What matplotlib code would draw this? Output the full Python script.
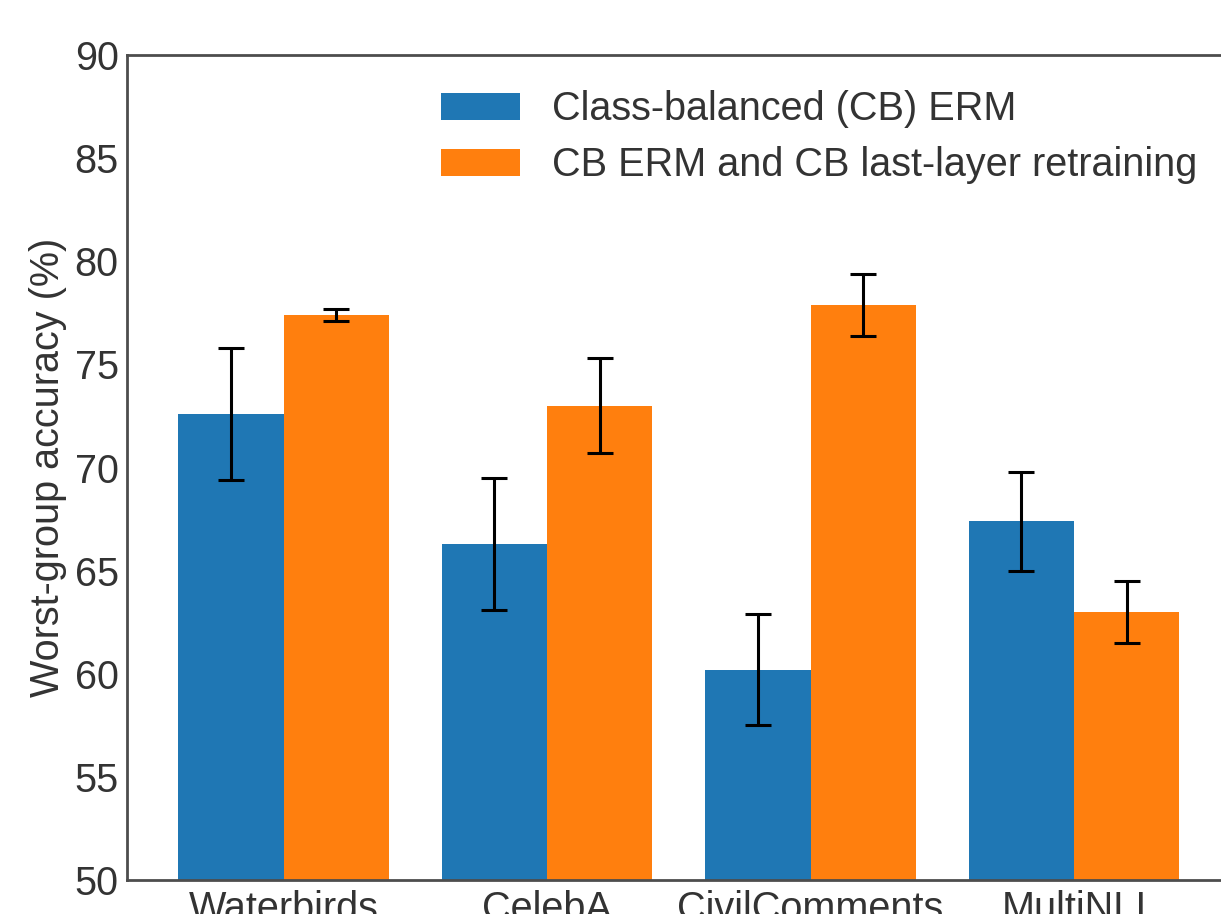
import matplotlib

matplotlib.use("Agg")
import matplotlib.pyplot as plt
import numpy as np

datasets = ["Waterbirds", "CelebA", "CivilComments", "MultiNLI"]
series_labels = ["Class-balanced (CB) ERM", "CB ERM and CB last-layer retraining"]
cb_erm_mean = [72.6, 66.3, 60.2, 67.4]
cb_erm_err = [3.2, 3.2, 2.7, 2.4]
cb_llr_mean = [77.4, 73.0, 77.9, 63.0]
cb_llr_err = [0.3, 2.3, 1.5, 1.5]

plt.rcParams["font.family"] = ["Liberation Sans", "DejaVu Sans"]
plt.rcParams["font.size"] = 28.5
plt.rcParams["text.color"] = "0.2"
plt.rcParams["axes.labelcolor"] = "0.2"
plt.rcParams["xtick.color"] = "0.2"
plt.rcParams["ytick.color"] = "0.2"

fig = plt.figure(figsize=(12.21, 9.14), dpi=100)
ax = fig.add_axes([0.104, 0.0372, 0.9038, 0.9026])

x = np.arange(len(datasets))
width = 0.4
err_kw = dict(elinewidth=2.2, capthick=2.2, ecolor="black")
ax.bar(x - width / 2, cb_erm_mean, width, yerr=cb_erm_err, capsize=9.5, color="#1f77b4",
       error_kw=err_kw, label=series_labels[0])
ax.bar(x + width / 2, cb_llr_mean, width, yerr=cb_llr_err, capsize=9.5, color="#ff7f0e",
       error_kw=err_kw, label=series_labels[1])

ax.set_xlim(-0.594, 3.594)
ax.set_ylim(50, 90)
ax.set_yticks(np.arange(50, 91, 5))
ax.set_xticks(x)
ax.set_xticklabels(datasets)
ax.tick_params(axis="y", length=0, pad=6)
ax.tick_params(axis="x", length=0, pad=7)
ax.set_ylabel("Worst-group accuracy (%)", labelpad=5.5)
for s in ax.spines.values():
    s.set_color("0.3")
    s.set_linewidth(2)

ax.legend(loc="upper left", bbox_to_anchor=(0.2845, 0.957), frameon=False,
          borderaxespad=0, borderpad=0, handlelength=2.0, handleheight=0.7,
          handletextpad=0.8, labelspacing=0.45)

fig.savefig("out.png", dpi=100)
